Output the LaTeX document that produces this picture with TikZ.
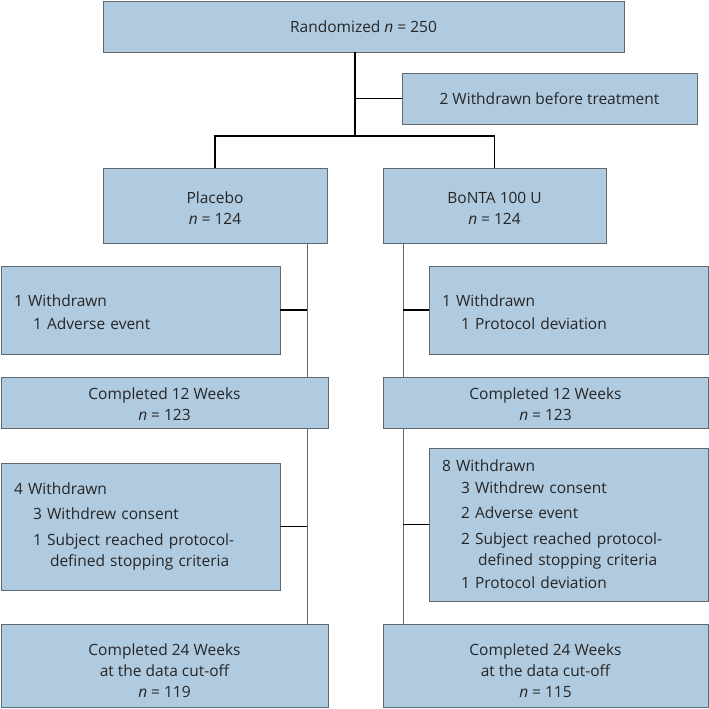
\documentclass[tikz,border=0pt]{standalone}
\usepackage{fontspec}
\setmainfont{Open Sans}
\usepackage{tikz}
\usetikzlibrary{calc}
\definecolor{boxfill}{RGB}{176,203,224}
\definecolor{boxline}{RGB}{96,106,114}
\definecolor{txt}{RGB}{38,38,38}

\begin{document}
\begin{tikzpicture}[
    x = 1pt, y = -1pt,
    box/.style = {draw=boxline, fill=boxfill, line width=0.7pt,
        anchor=north west, inner sep=0pt, outer sep=0pt,
        text=txt, align=center, font=\fontsize{15.5}{21}\selectfont},
    list/.style = {box, align=left, inner xsep=13pt},
    conn/.style = {line width=1.3pt, black},
    trunk/.style = {line width=0.6pt, boxline}
  ]
  \useasboundingbox (0,0) rectangle (709,709);

  % top part
  \node[box, minimum width=521pt, minimum height=51pt] (RAND) at (103,1)
    {Randomized \textit{n} = 250};
  \node[box, minimum width=295pt, minimum height=51pt] (WBT) at (402,73)
    {2 Withdrawn before treatment};
  \node[box, minimum width=224pt, minimum height=75pt] (PLAC) at (103,168)
    {\rule{0pt}{16pt}Placebo\\ \textit{n} = 124};
  \node[box, minimum width=223pt, minimum height=75pt] (BONTA) at (383,168)
    {\rule{0pt}{16pt}BoNTA 100 U\\ \textit{n} = 124};

  \coordinate (SPLIT) at (355,136);
  \coordinate (LTRUNK) at (307,0);
  \coordinate (RTRUNK) at (403,0);

  % placebo arm
  \node[list, text width=253pt, minimum width=278pt, minimum height=88pt] (W1L) at (1,266)
    {\rule{0pt}{16pt}1 Withdrawn\\[2pt]\hspace*{19pt}1 Adverse event};
  \node[box, minimum width=327pt, minimum height=51pt] (C12L) at (1,377)
    {\rule{0pt}{15pt}Completed 12 Weeks\\ \textit{n} = 123};
  \node[list, text width=253pt, minimum width=278pt, minimum height=127pt] (W2L) at (1,463)
    {4 Withdrawn\\[4pt]\hspace*{19pt}3 Withdrew consent\\[5pt]\hspace*{19pt}1 Subject reached protocol-\\
     \hspace*{36pt}defined stopping criteria};
  \node[box, minimum width=327pt, minimum height=83pt] (C24L) at (1,624)
    {\rule{0pt}{22pt}Completed 24 Weeks\\ at the data cut-off\\ \textit{n} = 119};

  % BoNTA arm
  \node[list, text width=253pt, minimum width=279pt, minimum height=88pt] (W1R) at (429,266)
    {\rule{0pt}{16pt}1 Withdrawn\\[2pt]\hspace*{19pt}1 Protocol deviation};
  \node[box, minimum width=325pt, minimum height=51pt] (C12R) at (383,377)
    {\rule{0pt}{15pt}Completed 12 Weeks\\ \textit{n} = 123};
  \node[list, text width=253pt, minimum width=279pt, minimum height=153pt] (W2R) at (429,448)
    {8 Withdrawn\\[1pt]\hspace*{19pt}3 Withdrew consent\\[4pt]\hspace*{19pt}2 Adverse event\\[5pt]
     \hspace*{19pt}2 Subject reached protocol-\\\hspace*{36pt}defined stopping criteria\\[2pt]
     \hspace*{19pt}1 Protocol deviation};
  \node[box, minimum width=325pt, minimum height=83pt] (C24R) at (383,624)
    {\rule{0pt}{22pt}Completed 24 Weeks\\ at the data cut-off\\ \textit{n} = 115};

  % connectors
  \draw[conn] (RAND.south -| SPLIT) -- (SPLIT);
  \draw[conn] (WBT.west -| SPLIT) -- (WBT.west);
  \draw[conn] (PLAC.north) |- (SPLIT) -| (BONTA.north);

  \draw[trunk] (PLAC.south -| LTRUNK) -- (C12L.north -| LTRUNK);
  \draw[trunk] (C12L.south -| LTRUNK) -- (C24L.north -| LTRUNK);
  \draw[trunk] (BONTA.south -| RTRUNK) -- (C12R.north -| RTRUNK);
  \draw[trunk] (C12R.south -| RTRUNK) -- (C24R.north -| RTRUNK);

  \draw[conn] (W1L.east) -- (W1L.east -| LTRUNK);
  \draw[conn] (W2L.east) -- (W2L.east -| LTRUNK);
  \draw[conn] (W1R.west) -- (W1R.west -| RTRUNK);
  \draw[conn] (W2R.west) -- (W2R.west -| RTRUNK);
\end{tikzpicture}
\end{document}
